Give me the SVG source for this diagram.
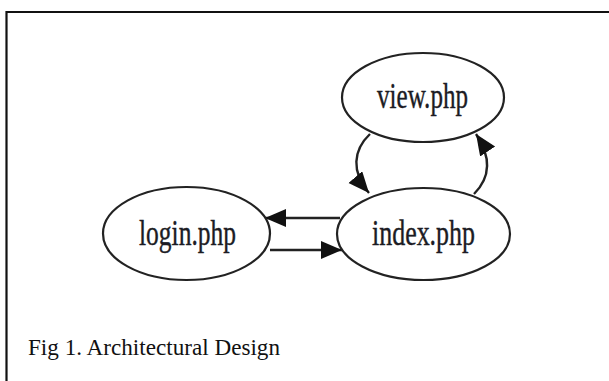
<svg xmlns="http://www.w3.org/2000/svg" width="609" height="381" viewBox="0 0 609 381">
  <style>
    .node ellipse { fill: #ffffff; stroke: #222222; stroke-width: 2.2; }
    .node text { font-family: "Liberation Serif", "Times New Roman", serif; font-size: 36px; fill: #1c1c24; stroke: #1c1c24; stroke-width: 0.4; text-anchor: middle; }
    .edge { fill: none; stroke: #222222; stroke-width: 2.4; }
    .caption { font-family: "Liberation Serif", "Times New Roman", serif; font-size: 23px; fill: #111111; }
  </style>
  <defs>
    <marker id="arrow" markerUnits="userSpaceOnUse" markerWidth="22" markerHeight="19" refX="21" refY="9" orient="auto">
      <path d="M0,0 L21,9 L0,18 z" fill="#111111"/>
    </marker>
  </defs>
  <rect x="0" y="0" width="609" height="381" fill="#ffffff"/>
  <path d="M6.5,381 L6.5,12 L609,12" fill="none" stroke="#111111" stroke-width="2.2"/>

  <g id="connectors">
    <path class="edge" d="M340,218 L265,218" marker-end="url(#arrow)"/>
    <path class="edge" d="M270,250 L342,250" marker-end="url(#arrow)"/>
    <path class="edge" d="M474,194 C490,178 492,158 476,134" marker-end="url(#arrow)"/>
    <path class="edge" d="M370,134 C353,150 351,172 369,193" marker-end="url(#arrow)"/>
  </g>

  <g id="view" class="node">
    <ellipse cx="423" cy="97.5" rx="81" ry="44.5"/>
    <text x="422.5" y="108" textLength="91" lengthAdjust="spacingAndGlyphs">view.php</text>
  </g>
  <g id="index" class="node">
    <ellipse cx="423.5" cy="234" rx="86.5" ry="46"/>
    <text x="423.5" y="245" textLength="103" lengthAdjust="spacingAndGlyphs">index.php</text>
  </g>
  <g id="login" class="node">
    <ellipse cx="186.5" cy="233.5" rx="83.5" ry="46.5"/>
    <text x="187.5" y="245" textLength="97" lengthAdjust="spacingAndGlyphs">login.php</text>
  </g>

  <text class="caption" x="28" y="355" textLength="252" lengthAdjust="spacingAndGlyphs">Fig 1. Architectural Design</text>
</svg>
